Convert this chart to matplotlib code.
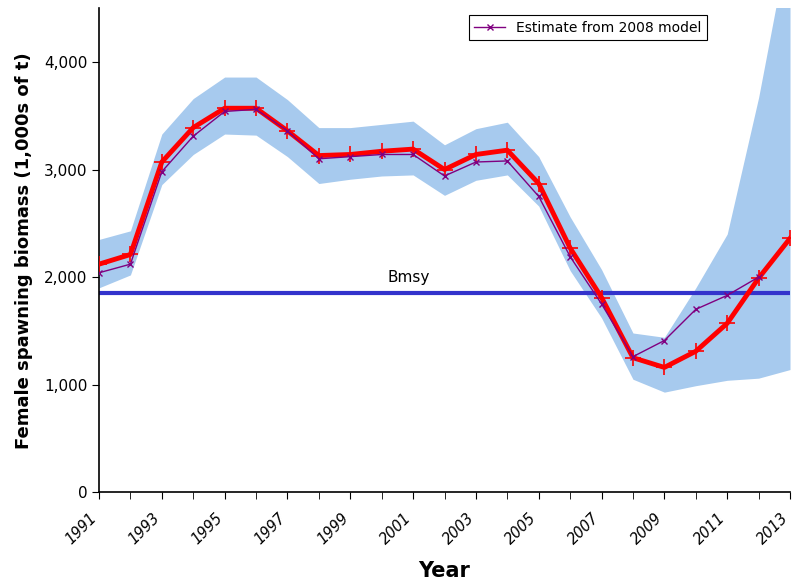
import numpy as np
import matplotlib
matplotlib.use("Agg")
import matplotlib.pyplot as plt
import matplotlib.transforms as mtrans
from matplotlib.ticker import FuncFormatter, MultipleLocator

years = list(range(1991, 2014))
year_labels = list(range(1991, 2014, 2))

# current assessment (1,000s of t)
biomass = [2120, 2210, 3070, 3390, 3570, 3570, 3360, 3130, 3140, 3170, 3190,
           3000, 3140, 3180, 2870, 2270, 1810, 1250, 1160, 1310, 1570, 1990, 2360]
upper = [2350, 2430, 3330, 3660, 3860, 3860, 3650, 3390, 3390, 3420, 3450,
         3230, 3380, 3440, 3120, 2560, 2070, 1480, 1440, 1900, 2400, 3670, 5200]
lower = [1900, 2020, 2860, 3140, 3330, 3320, 3120, 2870, 2910, 2940, 2950,
         2760, 2900, 2950, 2660, 2060, 1620, 1050, 930, 990, 1040, 1060, 1140]

# estimate from 2008 model (ends 2012)
years_2008 = list(range(1991, 2013))
biomass_2008 = [2040, 2120, 2980, 3310, 3540, 3560, 3360, 3100, 3120, 3140, 3140,
                2940, 3070, 3080, 2750, 2190, 1750, 1260, 1410, 1700, 1830, 2000]

bmsy = 1850

fig = plt.figure(figsize=(7.92, 5.88), dpi=100)
ax = fig.add_axes([0.125, 0.163, 0.8725, 0.823])

ax.fill_between(years, lower, upper, color="#A7CAEE", linewidth=0, zorder=1)
ax.axhline(bmsy, color="#3333CC", linewidth=3, zorder=2)
ax.text(2000.85, bmsy + 80, "Bmsy", ha="center", va="bottom", fontsize=11)
ax.plot(years, biomass, color="#FF0000", linewidth=3.5, marker="+",
        markersize=11, markeredgewidth=1.2, zorder=3)
ax.plot(years_2008, biomass_2008, color="#800080", linewidth=1, marker="x",
        markersize=5, markeredgewidth=1, zorder=4, label="Estimate from 2008 model")

ax.set_xlim(1991, 2013)
ax.set_ylim(0, 4500)
ax.set_xticks(year_labels)
ax.set_xticks(years, minor=True)
ax.yaxis.set_major_locator(MultipleLocator(1000))
ax.yaxis.set_major_formatter(FuncFormatter(lambda v, p: f"{int(v):,}"))
ax.tick_params(axis="both", labelsize=11, direction="out", length=5)
ax.tick_params(axis="x", which="minor", length=5)
ax.tick_params(axis="x", labelsize=10.5, pad=8)
shift = mtrans.ScaledTranslation(-7 / 72, 0, fig.dpi_scale_trans)
for lab in ax.get_xticklabels():
    lab.set_rotation(45)
    lab.set_ha("right")
    lab.set_rotation_mode("anchor")
    lab.set_style("italic")
    lab.set_transform(lab.get_transform() + shift)

for s in ("top", "right"):
    ax.spines[s].set_visible(False)
ax.spines["left"].set_linewidth(1.2)
ax.spines["bottom"].set_linewidth(1.2)

ax.set_xlabel("Year", fontsize=15, fontweight="bold", labelpad=10)
ax.set_ylabel("Female spawning biomass (1,000s of t)", fontsize=13,
              fontweight="bold", labelpad=8)

leg = ax.legend(loc="upper right", bbox_to_anchor=(0.89, 1.0), fontsize=10,
                fancybox=False, framealpha=1, edgecolor="black",
                handlelength=2.2, borderpad=0.4)
leg.get_frame().set_linewidth(0.8)

fig.savefig("out.png", dpi=100)
